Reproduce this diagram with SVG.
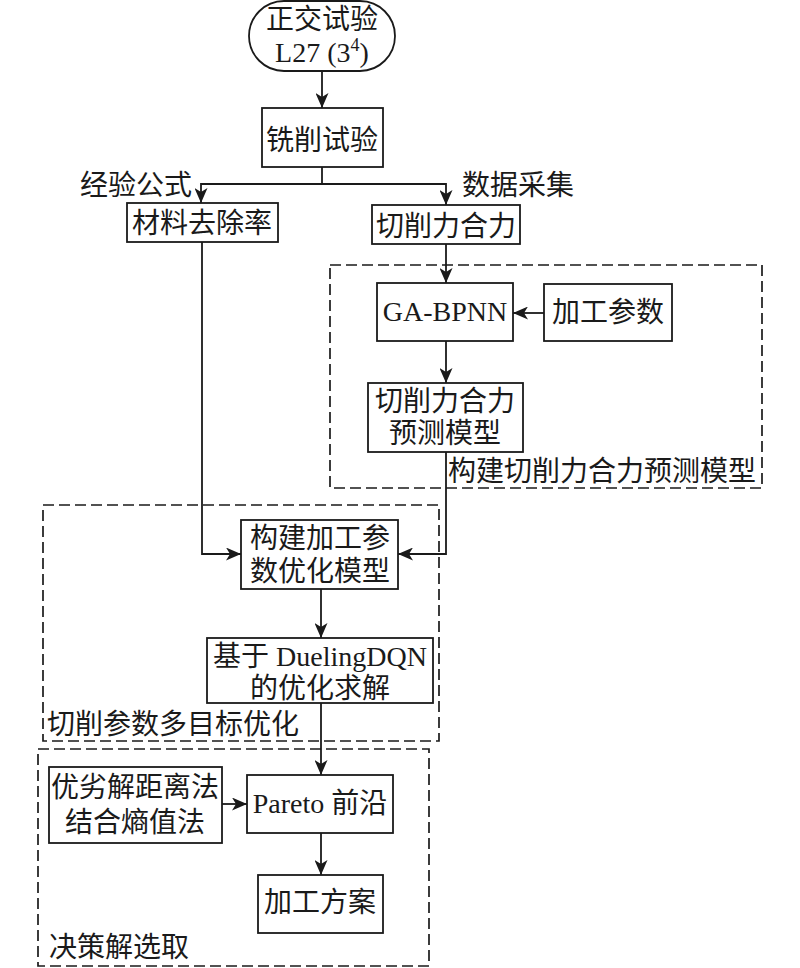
<svg xmlns="http://www.w3.org/2000/svg" width="800" height="968" viewBox="0 0 800 968">
<defs>
<marker id="arr" viewBox="0 0 15 13" refX="15" refY="6.5" markerWidth="15" markerHeight="13" markerUnits="userSpaceOnUse" orient="auto">
<path d="M0,0 L15,6.5 L0,13 L4,6.5 z" fill="#1a1a1a"/>
</marker>
<style>
.box{fill:#fff;stroke:#1a1a1a;stroke-width:1.8}
.grp{fill:none;stroke:#1a1a1a;stroke-width:1.7;stroke-dasharray:11 5}
.ln{fill:none;stroke:#1a1a1a;stroke-width:1.8}
.ar{fill:none;stroke:#1a1a1a;stroke-width:1.8;marker-end:url(#arr)}
text{font-family:"Liberation Serif","Noto Sans CJK SC",serif;font-size:28px;fill:#1a1a1a}
.c{text-anchor:middle}
</style>
</defs>
<rect width="800" height="968" fill="#fff"/>

<g id="groups">
<rect class="grp" x="330" y="265" width="432" height="223"/>
<rect class="grp" x="43" y="505" width="396" height="236"/>
<rect class="grp" x="38" y="749" width="391" height="217"/>
<text x="448" y="481">构建切削力合力预测模型</text>
<text x="47" y="734">切削参数多目标优化</text>
<text x="49" y="957">决策解选取</text>
</g>

<g id="connectors">
<path class="ar" d="M322,71 V108"/>
<path class="ln" d="M322,167 V184"/>
<path class="ar" d="M322,184 H201 V203"/>
<path class="ar" d="M322,184 H446 V205"/>
<path class="ar" d="M446,244 V283"/>
<path class="ar" d="M544,313 H513"/>
<path class="ar" d="M446,341 V383"/>
<path class="ar" d="M446,452 V554 H398"/>
<path class="ar" d="M202,242 V554 H241"/>
<path class="ar" d="M321,589 V638"/>
<path class="ar" d="M321,703 V775"/>
<path class="ar" d="M222,804 H247"/>
<path class="ar" d="M321,833 V875"/>
<text x="80" y="195">经验公式</text>
<text x="462" y="195">数据采集</text>
</g>

<g id="n-start">
<rect class="box" x="249" y="1" width="146" height="70" rx="35" ry="35"/>
<text class="c" x="322" y="29">正交试验</text>
<text class="c" x="322" y="62">L27 (3<tspan font-size="18" dy="-11">4</tspan><tspan dy="11">)</tspan></text>
</g>

<g id="n-milling">
<rect class="box" x="262" y="108" width="121" height="59"/>
<text class="c" x="322" y="150">铣削试验</text>
</g>

<g id="n-mrr">
<rect class="box" x="127" y="203" width="151" height="39"/>
<text class="c" x="202" y="233">材料去除率</text>
</g>

<g id="n-force">
<rect class="box" x="372" y="205" width="148" height="39"/>
<text class="c" x="446" y="236">切削力合力</text>
</g>

<g id="n-gabpnn">
<rect class="box" x="377" y="283" width="136" height="58"/>
<text class="c" x="445" y="321">GA-BPNN</text>
</g>

<g id="n-params">
<rect class="box" x="544" y="284" width="128" height="57"/>
<text class="c" x="608" y="322">加工参数</text>
</g>

<g id="n-predmodel">
<rect class="box" x="368" y="383" width="155" height="69"/>
<text class="c" x="445" y="411">切削力合力</text>
<text class="c" x="445" y="443">预测模型</text>
</g>

<g id="n-optmodel">
<rect class="box" x="241" y="520" width="157" height="69"/>
<text class="c" x="320" y="548">构建加工参</text>
<text class="c" x="320" y="581">数优化模型</text>
</g>

<g id="n-dqn">
<rect class="box" x="207" y="638" width="226" height="65"/>
<text class="c" x="320" y="666">基于 DuelingDQN</text>
<text class="c" x="320" y="698">的优化求解</text>
</g>

<g id="n-topsis">
<rect class="box" x="49" y="767" width="173" height="76"/>
<text class="c" x="135" y="797">优劣解距离法</text>
<text class="c" x="135" y="832">结合熵值法</text>
</g>

<g id="n-pareto">
<rect class="box" x="247" y="775" width="146" height="58"/>
<text class="c" x="320" y="813">Pareto 前沿</text>
</g>

<g id="n-plan">
<rect class="box" x="258" y="875" width="125" height="58"/>
<text class="c" x="320" y="912">加工方案</text>
</g>
</svg>
